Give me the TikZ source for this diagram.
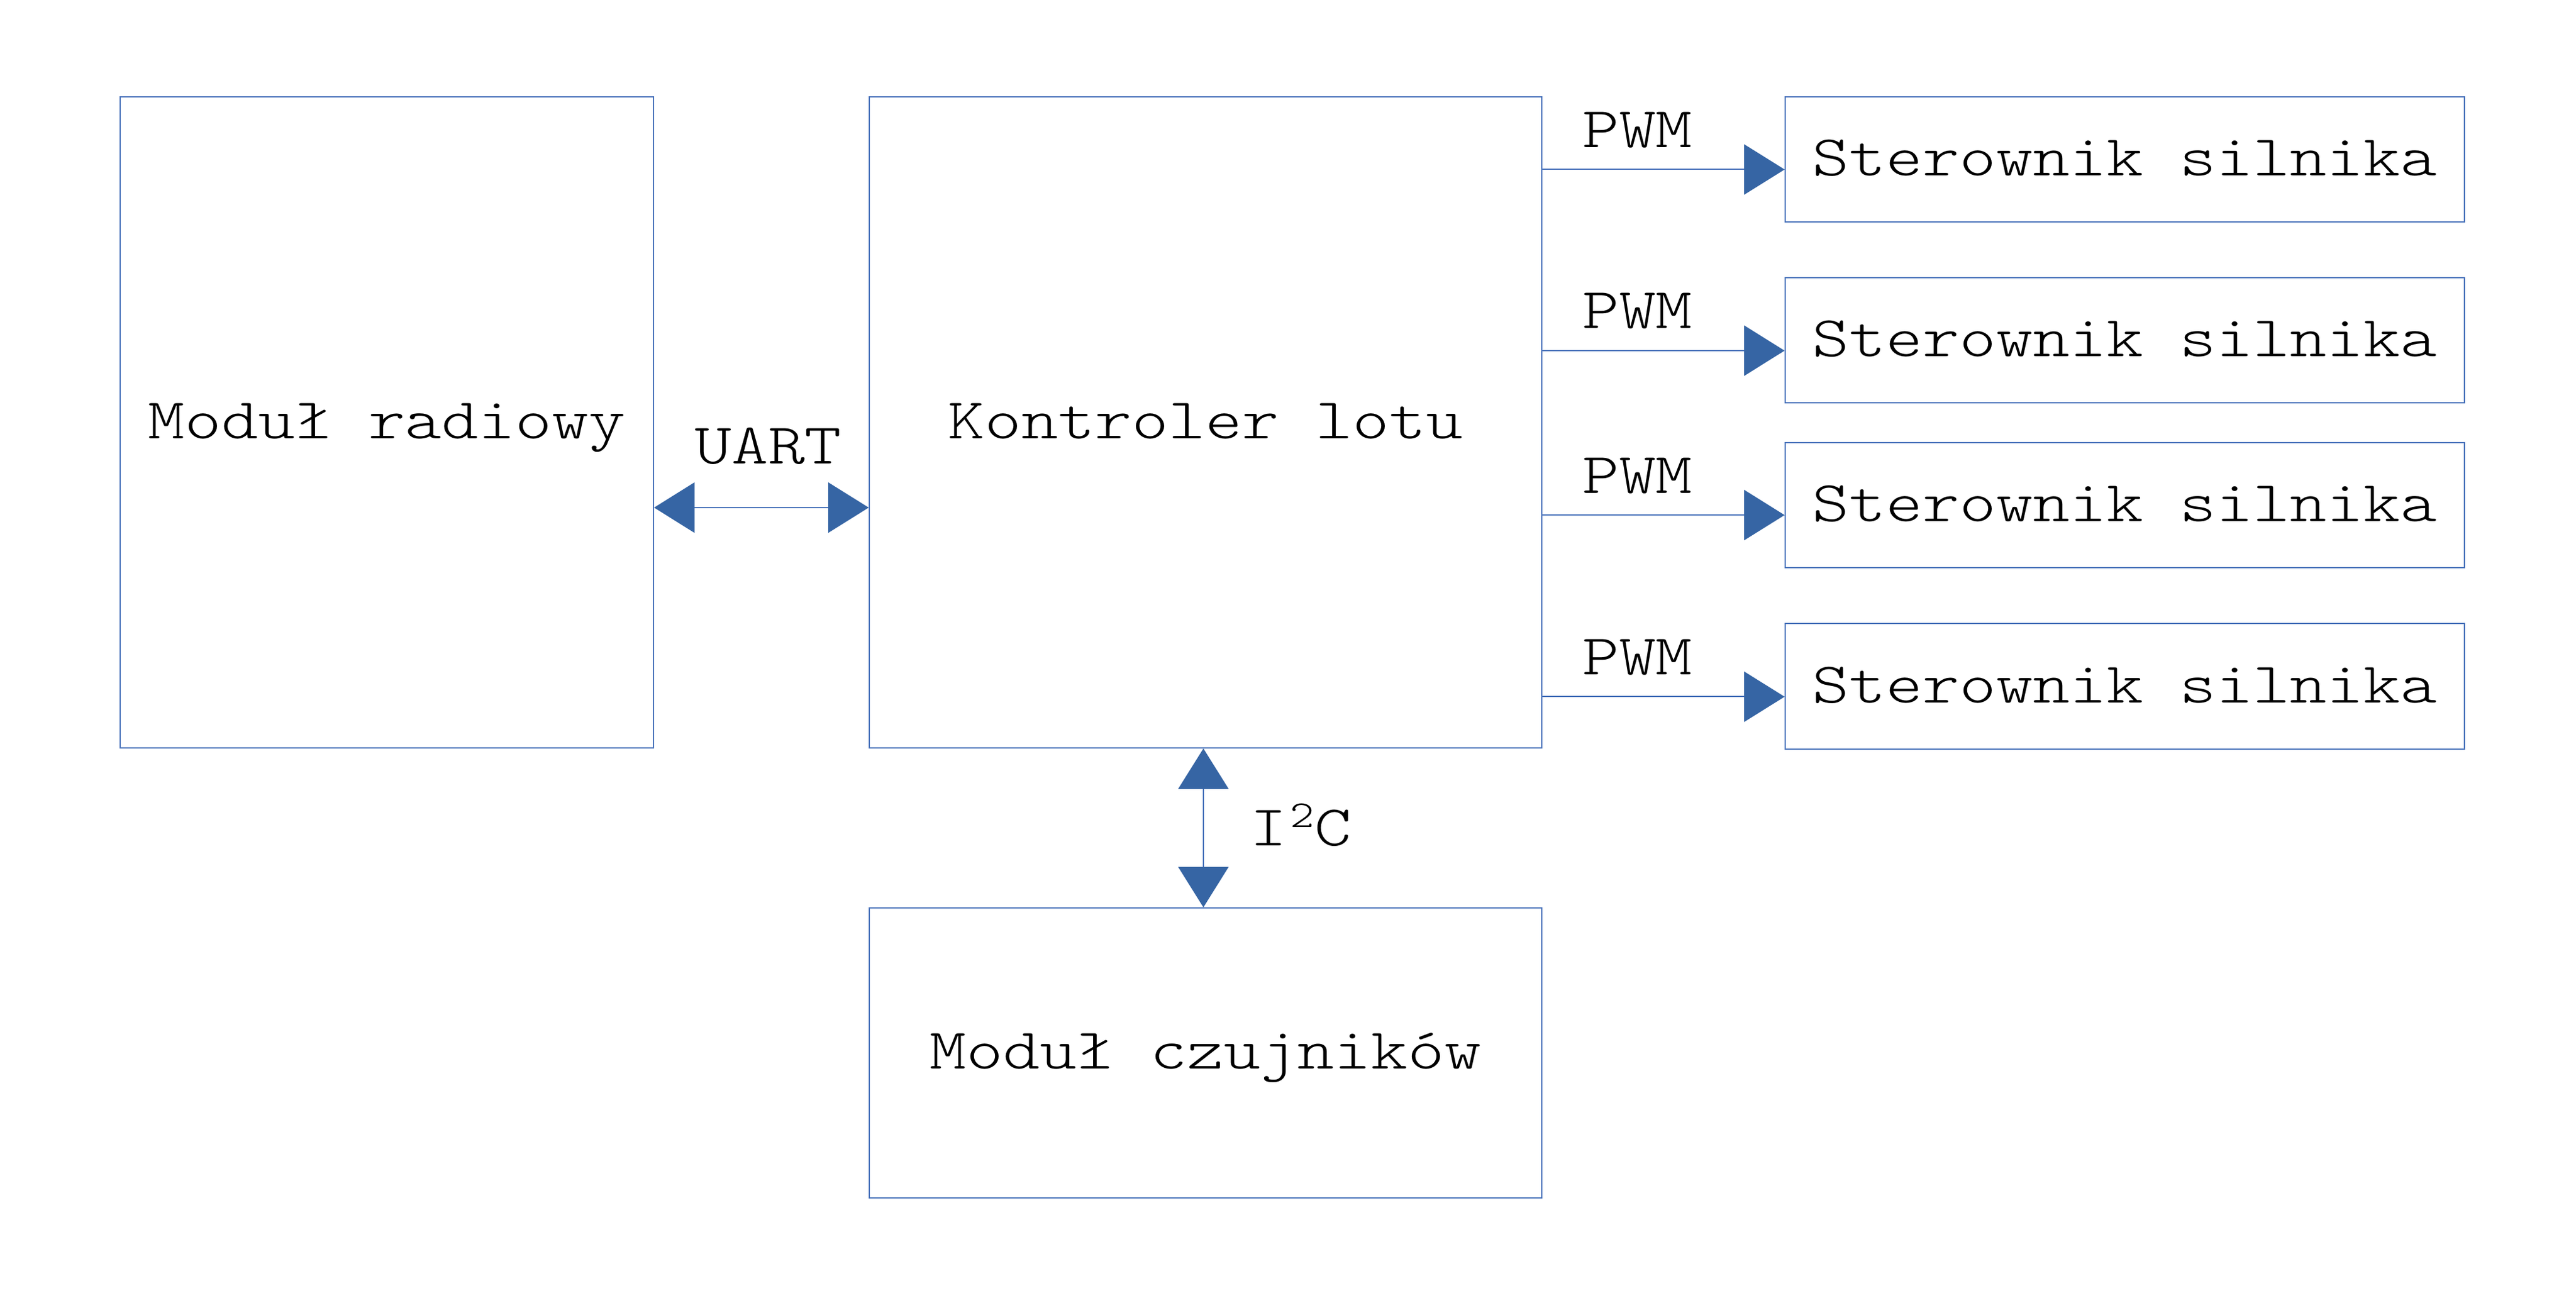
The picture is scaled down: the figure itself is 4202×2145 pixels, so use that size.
\documentclass[tikz,border=0pt]{standalone}
\usepackage{fontspec}
\setmonofont{Latin Modern Mono Light}[FakeStretch=1.215]
\usetikzlibrary{arrows.meta,calc}
\definecolor{boxc}{RGB}{72,114,186}
\definecolor{arrc}{RGB}{54,101,164}
\tikzset{
  blk/.style={draw=boxc, line width=0.2pt, inner sep=0pt, text height=5.3pt, text depth=0pt, align=center},
  lbl/.style={inner sep=0pt, anchor=base},
  conn/.style={draw=boxc, line width=0.2pt},
  tipR/.style={-{Triangle[length=6.6pt,width=8.2pt,fill=arrc,color=arrc]}},
  tipB/.style={{Triangle[length=6.6pt,width=8.2pt,fill=arrc,color=arrc]}-{Triangle[length=6.6pt,width=8.2pt,fill=arrc,color=arrc]}}
}
\begin{document}
\begin{tikzpicture}[x=0.1pt,y=-0.1pt,font=\ttfamily\fontsize{9.4pt}{11pt}\selectfont]
\useasboundingbox[fill=white] (0,0) rectangle (4202,2145);
% blocks
\node[blk, minimum width=87.0pt, minimum height=106.2pt] (radio) at (631,689) {Moduł radiowy};
\node[blk, minimum width=109.7pt, minimum height=106.2pt] (ctrl) at (1966.5,689) {Kontroler lotu};
\node[blk, minimum width=109.7pt, minimum height=47.3pt] (sens) at (1966.5,1717.5) {Moduł czujników};
\node[blk, minimum width=110.8pt, minimum height=20.45pt] (m1) at (3466,260) {Sterownik silnika};
\node[blk, minimum width=110.8pt, minimum height=20.4pt] (m2) at (3466,555.5) {Sterownik silnika};
\node[blk, minimum width=110.8pt, minimum height=20.4pt] (m3) at (3466,823.7) {Sterownik silnika};
\node[blk, minimum width=110.8pt, minimum height=20.5pt] (m4) at (3466,1120) {Sterownik silnika};
% UART
\coordinate (ua) at ($(radio.east)+(0,139)$);
\coordinate (ub) at ($(ctrl.west)+(0,139)$);
\draw[conn, tipB] (ua) -- (ub);
\node[lbl] (uart) at (1253,757) {UART};
% PWM
\foreach \i in {1,2,3,4}{
  \coordinate (p\i) at ($(m\i.west)+(0,16.5)$);
  \draw[conn, tipR] (ctrl.east |- p\i) -- (p\i);
  \node[lbl] (pwm\i) at ($(2671,0)+(0,0 |- p\i)+(0,-36)$) {PWM};
}
% I2C
\coordinate (ia) at ($(ctrl.south)+(-3.5,0)$);
\coordinate (ib) at ($(sens.north)+(-3.5,0)$);
\draw[conn, tipB] (ia) -- (ib);
\node[lbl] (i2c) at (2122,1380) {I\kern0.5pt\raisebox{3.0pt}{\fontsize{6.2pt}{7pt}\selectfont 2}\kern0ptC};
\end{tikzpicture}
\end{document}
